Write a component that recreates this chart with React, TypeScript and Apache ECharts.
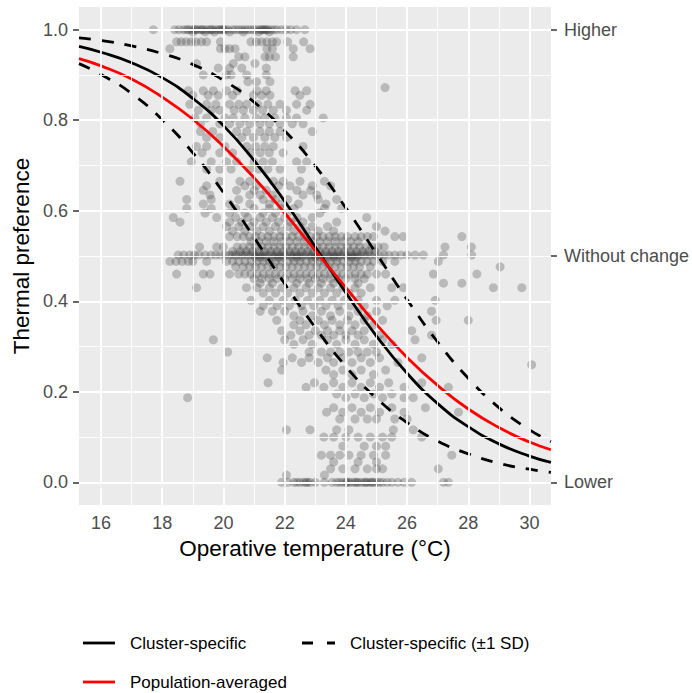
import React, { useEffect, useRef } from "react";
import * as echarts from "echarts";

const FONT = '"Liberation Sans", Arial, Helvetica, sans-serif';

const xMajor = [16, 18, 20, 22, 24, 26, 28, 30];
const xMinor = [17, 19, 21, 23, 25, 27, 29];
const yMajor = [0, 0.2, 0.4, 0.6, 0.8, 1.0];
const yMinor = [0.1, 0.3, 0.5, 0.7, 0.9];
const rightTicks = [0, 0.5, 1];
const rightLabels = ["Lower", "Without change", "Higher"];

const curveX = [15.28, 16, 17, 18, 19, 20, 21, 22, 23, 24, 25, 26, 27, 28, 29, 30, 30.7];
const clusterSpecific = [0.963, 0.95, 0.927, 0.894, 0.848, 0.788, 0.711, 0.621, 0.52, 0.419, 0.323, 0.241, 0.174, 0.123, 0.085, 0.058, 0.044];
const clusterUpper = [0.982, 0.976, 0.964, 0.947, 0.923, 0.888, 0.84, 0.777, 0.699, 0.606, 0.505, 0.404, 0.31, 0.23, 0.165, 0.116, 0.09];
const clusterLower = [0.925, 0.901, 0.859, 0.801, 0.728, 0.64, 0.541, 0.439, 0.342, 0.256, 0.186, 0.132, 0.091, 0.063, 0.042, 0.029, 0.022];
const populationAveraged = [0.936, 0.92, 0.891, 0.851, 0.802, 0.742, 0.673, 0.595, 0.512, 0.43, 0.349, 0.276, 0.214, 0.162, 0.121, 0.089, 0.072];

// observations, grouped by thermal preference value: [y, x-values]
const scatterRows: [number, number[]][] = [
  [1.0, [17.71, 18.41, 18.55, 18.7, 18.8, 18.85, 18.95, 19.05, 19.1, 19.15, 19.25, 19.3, 19.35, 19.45, 19.55, 19.6, 19.65, 19.75, 19.85, 19.9, 19.95, 20.0, 20.05, 20.15, 20.3, 20.4, 20.5, 20.6, 20.7, 20.8, 20.9, 21.0, 21.1, 21.2, 21.25, 21.3, 21.35, 21.4, 21.45, 21.55, 21.65, 21.75, 21.9, 22.05, 22.2, 22.39, 22.66]],
  [0.995, [19.0, 19.4, 19.7, 20.2, 20.65, 21.15, 21.5]],
  [0.973, [18.47, 18.62, 18.78, 18.95, 19.1, 19.28, 19.45, 19.9, 20.9, 21.08, 21.25, 21.42, 21.6, 21.74, 22.1, 22.62]],
  [0.958, [18.25, 19.9, 20.05, 20.2, 20.38, 21.42, 21.6, 22.28, 22.83]],
  [0.94, [20.5, 20.7, 21.36, 21.5, 21.7, 22.28]],
  [0.925, [19.12, 20.32, 21.03]],
  [0.915, [19.83, 20.2, 20.6, 21.4]],
  [0.9, [19.34, 20.1, 20.25, 20.76, 21.4]],
  [0.885, [20.8, 21.08, 21.52]],
  [0.872, [25.28]],
  [0.865, [18.85, 19.34, 19.67, 20.1, 20.45, 21.1, 21.4, 22.34, 22.72]],
  [0.855, [19.0, 19.5, 19.83, 20.3, 20.98, 21.25, 21.52, 22.5]],
  [0.835, [18.9, 19.45, 19.75, 20.2, 20.5, 20.76, 21.12, 21.45, 21.85, 22.39, 22.83]],
  [0.822, [19.18, 19.6, 19.88, 20.35, 20.65, 20.98, 21.28, 21.63, 22.06, 22.72]],
  [0.805, [19.07, 19.45, 20.05, 20.32, 20.7, 21.08, 21.35, 21.68, 22.06, 22.39, 23.26]],
  [0.792, [19.25, 19.88, 20.2, 20.54, 20.86, 21.19, 21.5, 21.85, 22.25, 22.6]],
  [0.775, [19.25, 19.65, 20.43, 20.76, 21.19, 21.5, 21.85, 22.9]],
  [0.762, [19.45, 19.88, 20.6, 20.98, 21.35, 21.68, 22.06]],
  [0.742, [19.12, 19.45, 20.05, 20.76, 21.05, 21.35, 21.63, 22.6]],
  [0.728, [19.3, 19.88, 20.3, 20.9, 21.2, 21.5, 21.95]],
  [0.708, [18.95, 19.6, 20.1, 20.43, 21.0, 21.3, 21.6, 22.39, 22.72]],
  [0.692, [19.45, 19.88, 20.25, 20.86, 21.15, 21.45, 21.85, 22.55]],
  [0.665, [18.58, 19.88, 20.54, 20.86, 21.63, 21.95, 22.5, 23.3]],
  [0.655, [19.45, 20.7, 21.08, 21.8, 22.17, 22.9, 23.5]],
  [0.645, [19.34, 20.43, 21.0, 21.4, 22.4, 22.85]],
  [0.635, [19.56, 20.86, 21.2, 21.6, 22.6, 23.05]],
  [0.625, [18.8, 19.6, 20.5, 21.3, 21.7, 22.1, 23.1, 23.7]],
  [0.615, [19.34, 20.2, 20.86, 21.5, 21.9, 22.45, 23.35]],
  [0.605, [18.8, 19.6, 20.4, 21.0, 21.5, 21.9, 22.3, 23.3, 23.86]],
  [0.595, [19.4, 20.2, 20.7, 21.3, 21.7, 22.1, 23.15]],
  [0.585, [18.36, 19.78, 20.4, 20.8, 21.2, 21.6, 22.0, 22.4, 22.9, 24.68]],
  [0.575, [18.58, 20.2, 20.6, 21.0, 21.4, 21.8, 22.2, 22.6, 23.7]],
  [0.565, [20.1, 20.5, 20.9, 21.3, 21.7, 22.1, 22.5, 22.9, 23.4, 25.0]],
  [0.555, [20.3, 20.7, 21.1, 21.5, 21.9, 22.3, 22.7, 23.1, 23.6, 25.28]],
  [0.543, [20.2, 20.45, 20.65, 20.85, 21.05, 21.25, 21.45, 21.65, 21.85, 22.05, 22.25, 22.45, 22.65, 22.85, 23.05, 23.25, 23.45, 23.65, 23.85, 24.05, 24.3, 24.5, 24.7, 24.9, 25.6, 25.87, 27.79]],
  [0.532, [20.9, 21.15, 21.4, 21.65, 21.9, 22.15, 22.4, 22.65, 22.9, 23.15, 23.4, 23.65, 23.9, 24.15, 24.4]],
  [0.52, [19.22, 19.78, 20.0, 20.45, 20.65, 20.85, 21.05, 21.25, 21.45, 21.65, 21.85, 22.05, 22.25, 22.45, 22.65, 22.85, 23.05, 23.25, 23.45, 23.65, 23.85, 24.05, 24.25, 24.45, 24.65, 24.85, 25.05, 25.25, 27.24, 28.1]],
  [0.51, [20.3, 20.55, 20.75, 20.95, 21.15, 21.35, 21.55, 21.75, 21.95, 22.15, 22.35, 22.55, 22.75, 22.95, 23.15, 23.35, 23.55, 23.75, 23.95, 24.15, 24.35, 24.55, 24.75, 24.95]],
  [0.502, [18.52, 18.7, 18.9, 19.05, 19.2, 19.4, 19.6, 19.75, 19.9, 20.05, 20.2, 20.3, 20.4, 20.5, 20.6, 20.7, 20.8, 20.9, 21.0, 21.1, 21.2, 21.3, 21.4, 21.5, 21.6, 21.7, 21.8, 21.9, 22.0, 22.1, 22.2, 22.3, 22.4, 22.5, 22.6, 22.7, 22.8, 22.9, 23.0, 23.1, 23.2, 23.3, 23.4, 23.5, 23.6, 23.7, 23.8, 23.9, 24.0, 24.1, 24.2, 24.3, 24.4, 24.5, 24.6, 24.7, 24.8, 24.95, 25.1, 25.25, 25.4, 25.6, 25.8, 26.0, 26.26, 26.53, 27.19, 28.11]],
  [0.497, [21.05, 21.35, 21.65, 21.95, 22.25, 22.55, 22.85, 23.15, 23.45, 23.75, 24.05, 24.35, 21.2, 21.8, 22.4, 23.0, 23.6, 24.2]],
  [0.488, [18.25, 18.45, 18.65, 18.85, 19.0, 19.45, 20.1, 20.3, 20.5, 20.7, 20.9, 21.1, 21.3, 21.5, 21.7, 21.9, 22.1, 22.3, 22.5, 22.7, 22.9, 23.1, 23.3, 23.5, 23.7, 23.9, 24.1, 24.3, 24.5, 24.7, 24.9, 25.2, 25.6, 27.02]],
  [0.476, [20.4, 20.65, 20.85, 21.05, 21.25, 21.45, 21.65, 21.85, 22.05, 22.25, 22.45, 22.65, 22.85, 23.05, 23.25, 23.45, 23.65, 23.85, 24.05, 24.25, 24.45, 24.8, 29.04]],
  [0.46, [18.47, 19.34, 19.56, 20.2, 20.5, 20.7, 20.9, 21.1, 21.3, 21.5, 21.7, 21.9, 22.1, 22.3, 22.5, 22.7, 22.9, 23.1, 23.3, 23.5, 23.7, 23.9, 24.1, 24.3, 24.5, 24.7, 25.0, 25.3, 26.86, 28.28]],
  [0.45, [21.0, 21.25, 21.5, 21.75, 22.0, 22.25, 22.5, 22.75, 23.0, 23.25, 23.5, 23.75, 24.0, 24.3, 24.6]],
  [0.44, [21.2, 21.6, 22.4, 22.8, 23.2, 23.6, 24.4, 27.19, 27.79]],
  [0.43, [19.12, 20.75, 21.1, 21.5, 21.9, 22.3, 22.7, 23.1, 23.5, 23.9, 24.3, 24.8, 25.5, 25.88, 28.82, 29.75]],
  [0.418, [21.3, 21.7, 22.1, 22.5, 22.9, 23.3, 23.7, 24.1, 24.5]],
  [0.402, [20.9, 21.5, 21.95, 22.35, 22.75, 23.15, 23.55, 23.95, 24.4, 25.0, 25.6, 26.92]],
  [0.39, [21.3, 21.75, 22.15, 22.55, 22.95, 23.35, 23.75, 24.15, 24.6, 25.35]],
  [0.378, [21.2, 21.6, 22.0, 22.6, 23.2, 23.8, 24.4, 25.0, 26.8]],
  [0.368, [22.3, 22.9, 23.5, 24.1, 24.7]],
  [0.358, [21.74, 22.5, 23.1, 23.55, 24.05, 24.6, 25.2, 26.95, 28.0]],
  [0.348, [22.3, 22.7, 23.3, 23.8, 24.3, 24.9]],
  [0.335, [21.9, 22.5, 23.0, 23.4, 23.8, 24.2, 24.6, 26.15]],
  [0.325, [22.2, 22.8, 23.2, 23.6, 24.0, 24.4, 25.1, 26.8]],
  [0.315, [19.67, 22.0, 22.6, 23.4, 24.0, 24.6, 25.2, 26.26]],
  [0.305, [22.3, 22.9, 23.7, 24.3, 24.9, 25.5]],
  [0.288, [20.14, 22.8, 23.2, 23.5, 23.8, 24.1, 24.4, 24.7, 25.0]],
  [0.275, [21.43, 22.25, 22.8, 23.4, 23.9, 24.5, 25.1, 26.48]],
  [0.265, [21.95, 22.55, 23.1, 23.6, 24.2, 24.8, 25.7]],
  [0.26, [30.07]],
  [0.248, [21.9, 23.35, 23.9, 24.5, 25.3]],
  [0.238, [23.6, 24.2, 24.9]],
  [0.22, [21.46, 22.97, 23.6, 24.2, 24.8, 25.4, 26.48]],
  [0.21, [22.7, 23.28, 23.9, 24.5, 25.1, 25.9, 27.35]],
  [0.195, [23.7, 24.3, 24.9, 25.5]],
  [0.187, [18.83, 24.0, 24.6, 25.2, 25.9, 26.2]],
  [0.165, [23.6, 24.2, 24.8, 25.5, 26.6]],
  [0.155, [23.37, 23.9, 24.5, 25.1, 25.9, 27.68]],
  [0.14, [23.8, 24.3, 24.7, 25.0, 25.6, 26.0]],
  [0.116, [22.06, 22.83, 23.7, 24.1, 25.55, 26.2]],
  [0.1, [23.28, 23.6, 24.0, 24.4, 24.8, 25.2, 25.5, 26.48]],
  [0.08, [23.9, 24.6, 25.0, 25.3]],
  [0.06, [23.2, 23.5, 23.8, 24.1, 24.5, 24.9, 25.3, 27.46]],
  [0.045, [23.6, 24.4, 25.0]],
  [0.03, [23.5, 23.9, 24.3, 24.7, 25.0, 25.2, 27.02]],
  [0.016, [22.06, 23.3]],
  [0.0, [21.9, 22.1, 22.3, 22.4, 22.5, 22.62, 22.7, 22.75, 22.83, 23.0, 23.3, 23.55, 23.7, 23.8, 23.9, 24.0, 24.05, 24.1, 24.2, 24.3, 24.35, 24.4, 24.5, 24.6, 24.65, 24.7, 24.8, 24.85, 24.9, 25.0, 25.1, 25.2, 25.35, 25.5, 25.7, 25.9, 26.15, 27.19, 27.35]],
];

export default function App() {
  const ref = useRef<HTMLDivElement>(null);

  useEffect(() => {
    if (!ref.current) return;
    const chart = echarts.init(ref.current, undefined, { renderer: "svg" });

    const points: number[][] = [];
    scatterRows.forEach(([y, xs]) => xs.forEach((x) => points.push([x, y])));

    const line = (arr: number[]) => curveX.map((x, i) => [x, arr[i]]);

    const gridMark = (vals: number[], axis: "xAxis" | "yAxis", width: number) =>
      vals.map((v) => ({ [axis]: v, lineStyle: { color: "#ffffff", width, type: "solid" } }));

    const tickStyle = { show: true, length: 6, lineStyle: { color: "#333333", width: 1.5 } };
    const labelStyle = { color: "#4d4d4d", fontSize: 18, fontFamily: FONT };

    const curve = (name: string, arr: number[], color: string, dashed: boolean, z: number) => ({
      type: "line",
      name,
      data: line(arr),
      z,
      showSymbol: false,
      smooth: 0.5,
      silent: true,
      lineStyle: dashed
        ? { color, width: 2.8, type: [12, 11], cap: "butt" }
        : { color, width: 2.8 },
    });

    chart.setOption({
      animation: false,
      textStyle: { fontFamily: FONT },
      grid: {
        left: 79,
        right: 141,
        top: 7,
        bottom: 188,
        show: true,
        backgroundColor: "#EBEBEB",
        borderWidth: 0,
      },
      xAxis: {
        type: "value",
        min: 15.28,
        max: 30.7,
        axisLine: { show: false },
        axisTick: { ...tickStyle, customValues: xMajor },
        axisLabel: { ...labelStyle, customValues: xMajor, margin: 9 },
        splitLine: { show: false },
      },
      yAxis: [
        {
          type: "value",
          min: -0.05,
          max: 1.05,
          axisLine: { show: false },
          axisTick: { ...tickStyle, customValues: yMajor },
          axisLabel: {
            ...labelStyle,
            customValues: yMajor,
            margin: 11,
            formatter: (v: number) => v.toFixed(1),
          },
          splitLine: { show: false },
        },
        {
          type: "value",
          position: "right",
          min: -0.05,
          max: 1.05,
          axisLine: { show: false },
          axisTick: { ...tickStyle, customValues: rightTicks },
          axisLabel: {
            ...labelStyle,
            customValues: rightTicks,
            margin: 13,
            formatter: (v: number) => {
              const i = rightTicks.findIndex((t) => Math.abs(t - v) < 1e-6);
              return i >= 0 ? rightLabels[i] : "";
            },
          },
          splitLine: { show: false },
        },
      ],
      series: [
        {
          type: "line",
          data: [],
          z: 1,
          silent: true,
          markLine: {
            silent: true,
            symbol: ["none", "none"],
            label: { show: false },
            emphasis: { disabled: true },
            data: [
              ...gridMark(xMinor, "xAxis", 0.9),
              ...gridMark(yMinor, "yAxis", 0.9),
              ...gridMark(xMajor, "xAxis", 1.8),
              ...gridMark(yMajor, "yAxis", 1.8),
            ],
          },
        },
        {
          type: "scatter",
          data: points,
          z: 2,
          symbolSize: 9,
          silent: true,
          itemStyle: { color: "rgba(50,50,50,0.34)", borderWidth: 0 },
        },
        curve("Cluster-specific (±1 SD) upper", clusterUpper, "#000000", true, 3),
        curve("Cluster-specific (±1 SD) lower", clusterLower, "#000000", true, 3),
        curve("Cluster-specific", clusterSpecific, "#000000", false, 3),
        curve("Population-averaged", populationAveraged, "#FF0000", false, 4),
      ],
      graphic: [
        {
          type: "text",
          x: 21,
          y: 256,
          rotation: Math.PI / 2,
          style: {
            text: "Thermal preference",
            font: `22.5px ${FONT}`,
            fill: "#000000",
            align: "center",
            verticalAlign: "middle",
          },
        },
        {
          type: "text",
          x: 315,
          y: 548,
          style: {
            text: "Operative temperature (°C)",
            font: `22.5px ${FONT}`,
            fill: "#000000",
            align: "center",
            verticalAlign: "middle",
          },
        },
        {
          type: "line",
          shape: { x1: 83, y1: 643, x2: 115, y2: 643 },
          style: { stroke: "#000000", lineWidth: 2.8 },
        },
        {
          type: "text",
          x: 130,
          y: 643,
          style: { text: "Cluster-specific", font: `17px ${FONT}`, fill: "#000000", verticalAlign: "middle" },
        },
        {
          type: "line",
          shape: { x1: 302, y1: 643, x2: 335, y2: 643 },
          style: { stroke: "#000000", lineWidth: 2.8, lineDash: [11, 14] },
        },
        {
          type: "text",
          x: 350,
          y: 643,
          style: { text: "Cluster-specific (±1 SD)", font: `17px ${FONT}`, fill: "#000000", verticalAlign: "middle" },
        },
        {
          type: "line",
          shape: { x1: 83, y1: 682, x2: 115, y2: 682 },
          style: { stroke: "#FF0000", lineWidth: 2.8 },
        },
        {
          type: "text",
          x: 130,
          y: 682,
          style: { text: "Population-averaged", font: `17px ${FONT}`, fill: "#000000", verticalAlign: "middle" },
        },
      ],
    });

    return () => chart.dispose();
  }, []);

  return (
    <div
      ref={ref}
      style={{ position: "absolute", left: 0, top: 0, width: 692, height: 693, background: "#ffffff" }}
    />
  );
}
